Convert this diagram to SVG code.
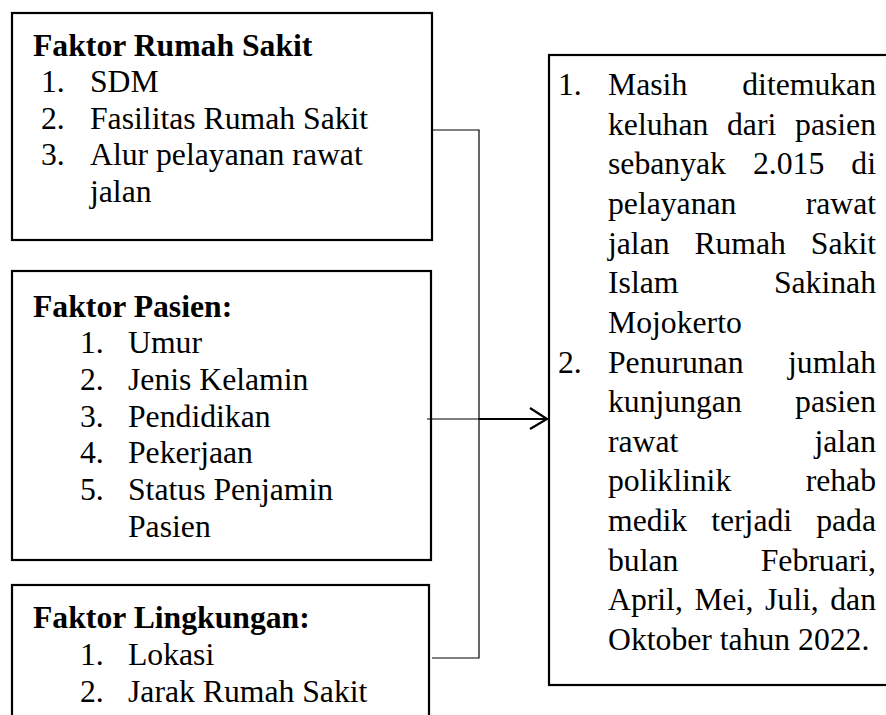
<svg xmlns="http://www.w3.org/2000/svg" width="886" height="715" viewBox="0 0 886 715">
<style>
text{font-family:"Liberation Serif","Times New Roman",serif;font-size:31.7px;fill:#000}
.b{font-weight:bold}
.e{text-anchor:end}
.box{fill:#fff;stroke:#000;stroke-width:2.2}
.c{fill:none;stroke:#000;stroke-width:1.2}
.ct{fill:none;stroke:#000;stroke-width:2.2}
</style>
<rect width="886" height="715" fill="#fff"/>
<g id="node-faktor-rumah-sakit">
<rect class="box" x="12" y="13" width="420" height="227"/>
<text class="b" x="33" y="56">Faktor Rumah Sakit</text>
<text x="41" y="92">1.</text><text x="90" y="92">SDM</text>
<text x="41" y="128.5">2.</text><text x="90" y="128.5">Fasilitas Rumah Sakit</text>
<text x="41" y="165">3.</text><text x="90" y="165">Alur pelayanan rawat</text>
<text x="90" y="201.5">jalan</text>
</g>
<g id="node-faktor-pasien">
<rect class="box" x="12" y="271" width="419" height="289"/>
<text class="b" x="33" y="317">Faktor Pasien:</text>
<text x="80" y="353">1.</text><text x="128" y="353">Umur</text>
<text x="80" y="390">2.</text><text x="128" y="390">Jenis Kelamin</text>
<text x="80" y="427">3.</text><text x="128" y="427">Pendidikan</text>
<text x="80" y="463">4.</text><text x="128" y="463">Pekerjaan</text>
<text x="80" y="500">5.</text><text x="128" y="500">Status Penjamin</text>
<text x="128" y="537">Pasien</text>
</g>
<g id="node-faktor-lingkungan">
<rect class="box" x="12" y="585" width="417" height="140"/>
<text class="b" x="33" y="628">Faktor Lingkungan:</text>
<text x="80" y="665">1.</text><text x="128" y="665">Lokasi</text>
<text x="80" y="702">2.</text><text x="128" y="702">Jarak Rumah Sakit</text>
</g>
<g id="node-masalah">
<rect class="box" x="549" y="55" width="345" height="630"/>
<text x="558" y="95">1.</text><text x="608" y="95">Masih</text><text class="e" x="876" y="95">ditemukan</text>
<text x="608" y="134.6">keluhan</text><text x="727" y="134.6">dari</text><text class="e" x="876" y="134.6">pasien</text>
<text x="608" y="174.3">sebanyak</text><text x="753" y="174.3">2.015</text><text class="e" x="876" y="174.3">di</text>
<text x="608" y="213.9">pelayanan</text><text class="e" x="876" y="213.9">rawat</text>
<text x="608" y="253.6">jalan</text><text x="694.4" y="253.6">Rumah</text><text class="e" x="876" y="253.6">Sakit</text>
<text x="608" y="293.2">Islam</text><text class="e" x="876" y="293.2">Sakinah</text>
<text x="608" y="332.8">Mojokerto</text>
<text x="558" y="372.5">2.</text><text x="608" y="372.5">Penurunan</text><text class="e" x="876" y="372.5">jumlah</text>
<text x="608" y="412.1">kunjungan</text><text class="e" x="876" y="412.1">pasien</text>
<text x="608" y="451.8">rawat</text><text class="e" x="876" y="451.8">jalan</text>
<text x="608" y="491.4">poliklinik</text><text class="e" x="876" y="491.4">rehab</text>
<text x="608" y="531">medik</text><text x="711.2" y="531">terjadi</text><text class="e" x="876" y="531">pada</text>
<text x="608" y="570.7">bulan</text><text class="e" x="876" y="570.7">Februari,</text>
<text x="608" y="610.3">April,</text><text x="694.4" y="610.3">Mei,</text><text x="765" y="610.3">Juli,</text><text class="e" x="876" y="610.3">dan</text>
<text x="608" y="650">Oktober tahun 2022.</text>
</g>
<g id="connectors">
<polyline class="c" points="433,130 479,130 479,658 432,658"/>
<line class="c" x1="427" y1="419" x2="479" y2="419"/>
<line class="ct" x1="479" y1="419" x2="547" y2="419"/>
<polyline class="ct" points="530,408 547,419 530,429"/>
</g>
</svg>
